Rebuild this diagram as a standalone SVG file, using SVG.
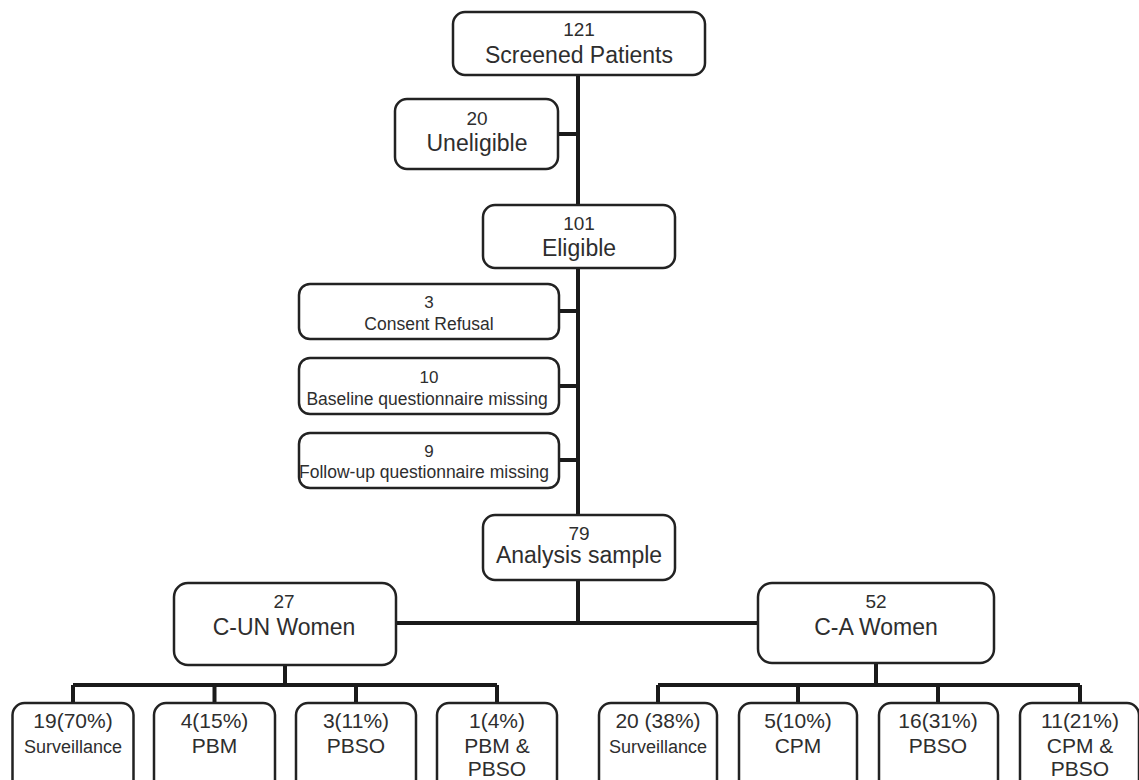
<svg xmlns="http://www.w3.org/2000/svg" width="1139" height="780" viewBox="0 0 1139 780">
<style>
.box{fill:#fff;stroke:#222;stroke-width:2.5}
.ln{stroke:#1a1a1a;stroke-width:4;fill:none}
text{font-family:"Liberation Sans",Arial,sans-serif;fill:#2e2e2e;text-anchor:middle}
.num{font-size:19px}
.lab{font-size:23px}
.snum{font-size:17px}
.slab{font-size:17.5px}
.bn{font-size:21px}
.bs{font-size:18px}
</style>
<rect width="1139" height="780" fill="#fff"/>
<g id="connectors">
<path class="ln" d="M578,75 V515"/>
<path class="ln" d="M558,134 H578"/>
<path class="ln" d="M559,311 H578 M559,386 H578 M559,460 H578"/>
<path class="ln" d="M578,580 V623 M396,623 H758"/>
<path class="ln" d="M285,665 V685 M73,685 H497 M73,685 V703 M214.5,685 V703 M356,685 V703 M497,685 V703"/>
<path class="ln" d="M876,663 V685 M658,685 H1080 M658,685 V703 M798,685 V703 M938,685 V703 M1080,685 V703"/>
</g>
<g id="screened"><rect class="box" x="453" y="12" width="252" height="63" rx="12"/><text class="num" x="579" y="36">121</text><text class="lab" x="579" y="63">Screened Patients</text></g>
<g id="uneligible"><rect class="box" x="395" y="99" width="163" height="70" rx="12"/><text class="num" x="477" y="125">20</text><text class="lab" x="477" y="151">Uneligible</text></g>
<g id="eligible"><rect class="box" x="483" y="205" width="192" height="63" rx="12"/><text class="num" x="579" y="230">101</text><text class="lab" x="579" y="256">Eligible</text></g>
<g id="consent"><rect class="box" x="299" y="284" width="260" height="55" rx="11"/><text class="snum" x="429" y="308">3</text><text class="slab" x="429" y="330">Consent Refusal</text></g>
<g id="baseline"><rect class="box" x="299" y="358" width="260" height="56" rx="11"/><text class="snum" x="429" y="383">10</text><text class="slab" x="427" y="405">Baseline questionnaire missing</text></g>
<g id="followup"><rect class="box" x="299" y="433" width="260" height="55" rx="11"/><text class="snum" x="429" y="457">9</text><text class="slab" x="424" y="478">Follow-up questionnaire missing</text></g>
<g id="analysis"><rect class="box" x="483" y="515" width="192" height="65" rx="12"/><text class="num" x="579" y="540">79</text><text class="lab" x="579" y="563">Analysis sample</text></g>
<g id="cun"><rect class="box" x="174" y="583" width="222" height="82" rx="14"/><text class="num" x="284" y="608">27</text><text class="lab" x="284" y="635">C-UN Women</text></g>
<g id="ca"><rect class="box" x="758" y="583" width="236" height="80" rx="14"/><text class="num" x="876" y="608">52</text><text class="lab" x="876" y="635">C-A Women</text></g>
<g id="cun-surv"><rect class="box" x="12.5" y="703" width="121" height="100" rx="12"/><text class="bn" x="73" y="728">19(70%)</text><text class="bs" x="73" y="753">Surveillance</text></g>
<g id="cun-pbm"><rect class="box" x="154" y="703" width="121" height="100" rx="12"/><text class="bn" x="214.5" y="728">4(15%)</text><text class="bn" x="214.5" y="753">PBM</text></g>
<g id="cun-pbso"><rect class="box" x="296" y="703" width="120" height="100" rx="12"/><text class="bn" x="356" y="728">3(11%)</text><text class="bn" x="356" y="753">PBSO</text></g>
<g id="cun-both"><rect class="box" x="437" y="703" width="120" height="100" rx="12"/><text class="bn" x="497" y="728">1(4%)</text><text class="bn" x="497" y="753">PBM &amp;</text><text class="bn" x="497" y="776">PBSO</text></g>
<g id="ca-surv"><rect class="box" x="599" y="703" width="118" height="100" rx="12"/><text class="bn" x="658" y="728">20 (38%)</text><text class="bs" x="658" y="753">Surveillance</text></g>
<g id="ca-cpm"><rect class="box" x="739" y="703" width="118" height="100" rx="12"/><text class="bn" x="798" y="728">5(10%)</text><text class="bn" x="798" y="753">CPM</text></g>
<g id="ca-pbso"><rect class="box" x="879" y="703" width="119" height="100" rx="12"/><text class="bn" x="938" y="728">16(31%)</text><text class="bn" x="938" y="753">PBSO</text></g>
<g id="ca-both"><rect class="box" x="1020" y="703" width="119" height="100" rx="12"/><text class="bn" x="1080" y="728">11(21%)</text><text class="bn" x="1080" y="753">CPM &amp;</text><text class="bn" x="1080" y="776">PBSO</text></g>
</svg>
